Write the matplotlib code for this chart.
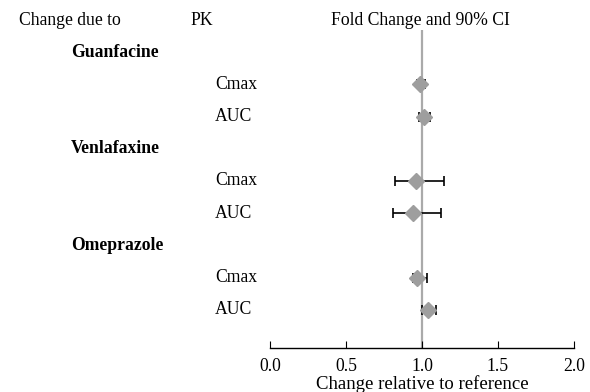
import matplotlib
matplotlib.use("Agg")
import matplotlib.pyplot as plt
import matplotlib.transforms as mtransforms

plt.rcParams['font.family'] = ['Liberation Serif', 'DejaVu Serif']

drugs = ["Guanfacine", "Venlafaxine", "Omeprazole"]
params = ["Cmax", "AUC"]
fold = [[0.99, 1.01], [0.96, 0.94], [0.97, 1.04]]
ci_low = [[0.97, 0.98], [0.82, 0.81], [0.94, 1.00]]
ci_high = [[1.02, 1.05], [1.145, 1.125], [1.03, 1.09]]

FS = 12.7

fig = plt.figure(figsize=(5.9, 3.92), dpi=100)
ax = fig.add_axes([270 / 590, 44 / 392, 304 / 590, 318 / 392])

# row 0 is the header, each drug gets a title row and two PK rows
ax.set_ylim(10.19, 0.31)
ax.set_xlim(0, 2)
trans = mtransforms.blended_transform_factory(fig.transFigure, ax.transData)

ax.text(19 / 590, 0, "Change due to", transform=trans, fontsize=FS, va="center", clip_on=False)
ax.text(190 / 590, 0, "PK", transform=trans, fontsize=FS, va="center", clip_on=False)
ax.text(331 / 590, 0, "Fold Change and 90% CI", transform=trans, fontsize=FS, va="center",
        clip_on=False)

ax.axvline(1.0, color="#aaaaaa", lw=1.6, zorder=1)

row = 1
for i, drug in enumerate(drugs):
    ax.text(71 / 590, row, drug, transform=trans, fontsize=FS, fontweight="bold",
            va="center", clip_on=False)
    row += 1
    for j, p in enumerate(params):
        ax.text(215 / 590, row, p, transform=trans, fontsize=FS, va="center", clip_on=False)
        f = fold[i][j]
        ax.errorbar(f, row, xerr=[[f - ci_low[i][j]], [ci_high[i][j] - f]], fmt="none",
                     ecolor="black", elinewidth=1.2, capsize=3.5, capthick=1.2, zorder=2)
        ax.plot(f, row, marker="D", color="#9e9e9e", markersize=8, mec="#9e9e9e", zorder=3,
                clip_on=False)
        row += 1

for s in ["top", "left", "right"]:
    ax.spines[s].set_visible(False)
ax.spines["bottom"].set_linewidth(1.0)
ax.set_yticks([])
ax.set_xticks([0.0, 0.5, 1.0, 1.5, 2.0])
ax.set_xticklabels(["0.0", "0.5", "1.0", "1.5", "2.0"])
ax.tick_params(axis="x", direction="in", length=5, labelsize=FS, pad=7)
ax.set_xlabel("Change relative to reference", fontsize=13.5, labelpad=0)

fig.savefig("out.png", dpi=100)
